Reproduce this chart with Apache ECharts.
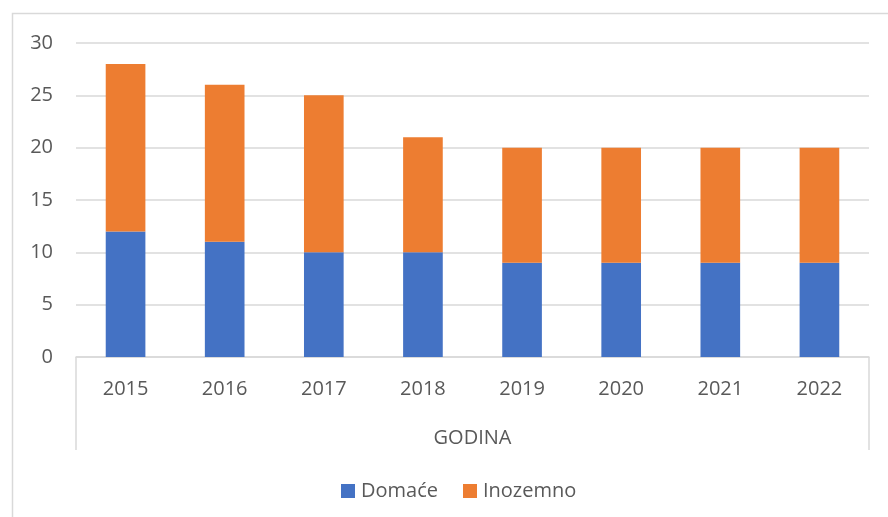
<!DOCTYPE html>
<html>
<head>
<meta charset="utf-8">
<script src="https://cdn.jsdelivr.net/npm/echarts@6/dist/echarts.min.js"></script>
<style>
  html, body { margin: 0; padding: 0; background: #fff; }
  #chart { width: 888px; height: 517px; }
</style>
</head>
<body>
<div id="chart"></div>
<script>
const godine = ['2015', '2016', '2017', '2018', '2019', '2020', '2021', '2022'];
const domace = [12, 11, 10, 10, 9, 9, 9, 9];
const inozemno = [16, 15, 15, 11, 11, 11, 11, 11];
const grupa = ['GODINA'];

const FONT = '"Open Sans", sans-serif';
const TXT = '#595959';
const LINE = '#d9d9d9';

const myChart = echarts.init(document.getElementById('chart'));

const option = {
  animation: false,
  textStyle: { fontFamily: FONT },
  graphic: [
    {
      // chart area border
      type: 'rect',
      shape: { x: 12.5, y: 13.5, width: 900, height: 520 },
      style: { fill: 'none', stroke: LINE, lineWidth: 1.5 },
      silent: true
    }
  ],
  grid: { left: 76, right: 19, top: 43, bottom: 160 },
  legend: {
    top: 476,
    left: 336,
    itemWidth: 14,
    itemHeight: 14,
    itemGap: 25,
    icon: 'rect',
    textStyle: { color: TXT, fontSize: 20, fontFamily: FONT, padding: [0, 0, 0, 1] },
    data: ['Domaće', 'Inozemno']
  },
  xAxis: [
    {
      type: 'category',
      data: godine,
      axisLine: { lineStyle: { color: LINE, width: 1.5 } },
      axisTick: { show: false },
      axisLabel: { color: TXT, fontSize: 20, margin: 22 }
    },
    {
      type: 'category',
      data: grupa,
      position: 'bottom',
      axisLine: { show: false },
      axisTick: { show: true, length: 93, lineStyle: { color: LINE, width: 1.5 } },
      axisLabel: { color: TXT, fontSize: 20, margin: 71 }
    }
  ],
  yAxis: {
    type: 'value',
    min: 0,
    max: 30,
    interval: 5,
    axisLine: { show: false },
    axisTick: { show: false },
    splitLine: { lineStyle: { color: LINE, width: 1.5 } },
    axisLabel: { color: TXT, fontSize: 20, margin: 23 }
  },
  series: [
    {
      name: 'Domaće',
      type: 'bar',
      stack: 'ukupno',
      barWidth: '40%',
      itemStyle: { color: '#4472C4' },
      data: domace
    },
    {
      name: 'Inozemno',
      type: 'bar',
      stack: 'ukupno',
      barWidth: '40%',
      itemStyle: { color: '#ED7D31' },
      data: inozemno
    }
  ]
};

myChart.setOption(option);
</script>
</body>
</html>
